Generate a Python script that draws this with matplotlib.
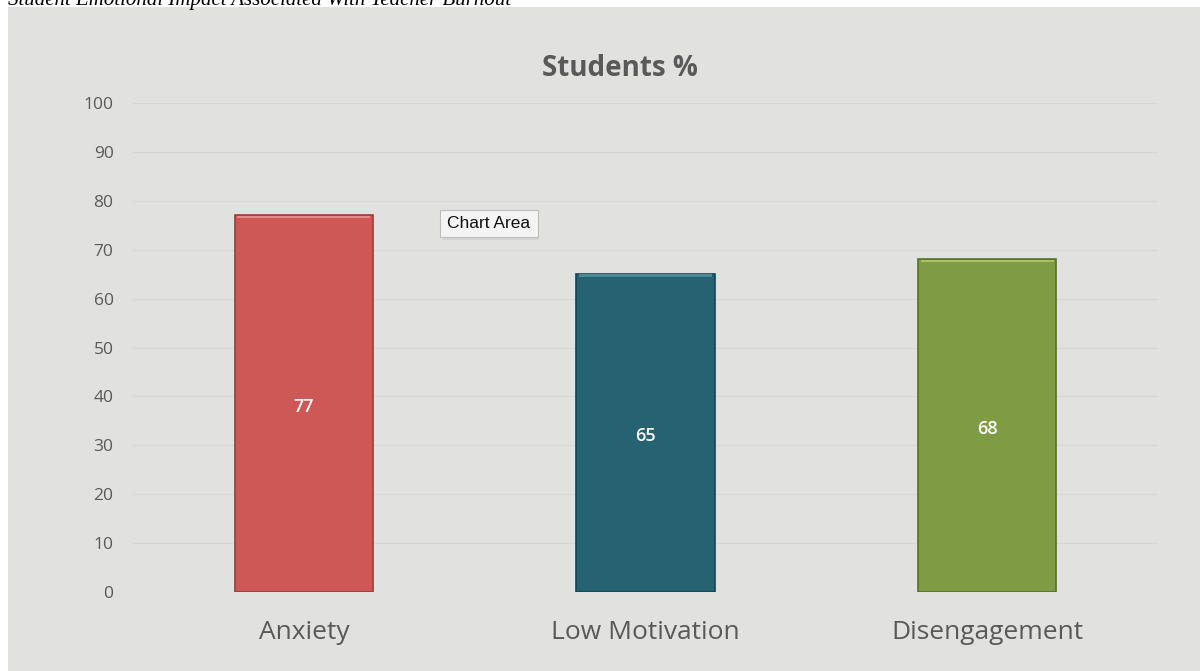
import matplotlib
matplotlib.use("Agg")
import matplotlib.pyplot as plt
from matplotlib.patches import Rectangle

categories = ["Anxiety", "Low Motivation", "Disengagement"]
values = [77, 65, 68]
colors = ["#CD5855", "#256272", "#7F9C44"]
edges = ["#9E3C3A", "#174452", "#55702A"]
tops = ["#E58A86", "#4E8797", "#A6C36A"]
yticks = list(range(0, 101, 10))

bg = "#E1E2DF"
txt = "#595959"

fig = plt.figure(figsize=(12, 6.71), dpi=100, facecolor="white")
fig.add_artist(Rectangle((8 / 1200, 0), 1 - 8 / 1200, 1 - 7 / 671,
                         transform=fig.transFigure, facecolor=bg,
                         edgecolor="none", zorder=-5))
# page heading above the chart, cut off by the screenshot edge
fig.text(8 / 1200, 1 - 5.5 / 671,
         "Student Emotional Impact Associated With Teacher Burnout",
         family="Liberation Serif", style="italic", fontsize=15,
         va="baseline", ha="left", color="black", zorder=5)

ax = fig.add_axes([133 / 1200, 1 - 592 / 671, 1025 / 1200, 489 / 671])
ax.set_facecolor("none")
x = list(range(len(categories)))
ax.bar(x, values, width=0.404, color=colors, edgecolor=edges, linewidth=1.2, zorder=3)
# bevel highlight along the top edge
ax.bar(x, [0.5] * 3, bottom=[v - 0.55 for v in values], width=0.39,
       color=tops, edgecolor="none", zorder=4)

for xi, v in zip(x, values):
    ax.annotate(str(v), (xi, v / 2), xytext=(0, -2), textcoords="offset points",
                ha="center", va="center", color="white", fontsize=13,
                family="Open Sans", fontweight="semibold", zorder=5)

ax.set_xlim(-0.5, 2.5)
ax.set_ylim(0, 100)
ax.set_yticks(yticks)
ax.set_xticks(x)
ax.set_xticklabels(categories, family="Open Sans", fontsize=19, color=txt)
ax.tick_params(axis="x", length=0, pad=20)
ax.tick_params(axis="y", length=0, pad=14, labelsize=12.5, labelcolor=txt)
for lab in ax.get_yticklabels():
    lab.set_family("Open Sans")
ax.grid(axis="y", color="#D7D8D5", linewidth=0.8, zorder=0)
for s in ax.spines.values():
    s.set_visible(False)

fig.text(620 / 1200, 1 - 69 / 671, "Students %", family="Open Sans",
         fontweight="bold", fontsize=20, color=txt, ha="center", va="center")

# "Chart Area" hover tooltip
fig.add_artist(Rectangle((443 / 1200, 1 - 240 / 671), 96 / 1200, 26 / 671,
                         transform=fig.transFigure, facecolor="#C8C9C6",
                         edgecolor="none", alpha=0.5, zorder=6))
fig.add_artist(Rectangle((440 / 1200, 1 - 237 / 671), 98 / 1200, 27 / 671,
                         transform=fig.transFigure, facecolor="#F4F4F4",
                         edgecolor="#BDBDBD", linewidth=0.8, zorder=7))
fig.text(489 / 1200, 1 - 224 / 671, "Chart Area", family="Liberation Sans",
         fontsize=12.5, ha="center", va="center", color="#111111", zorder=8)

fig.savefig("out.png", dpi=100, facecolor="white")
